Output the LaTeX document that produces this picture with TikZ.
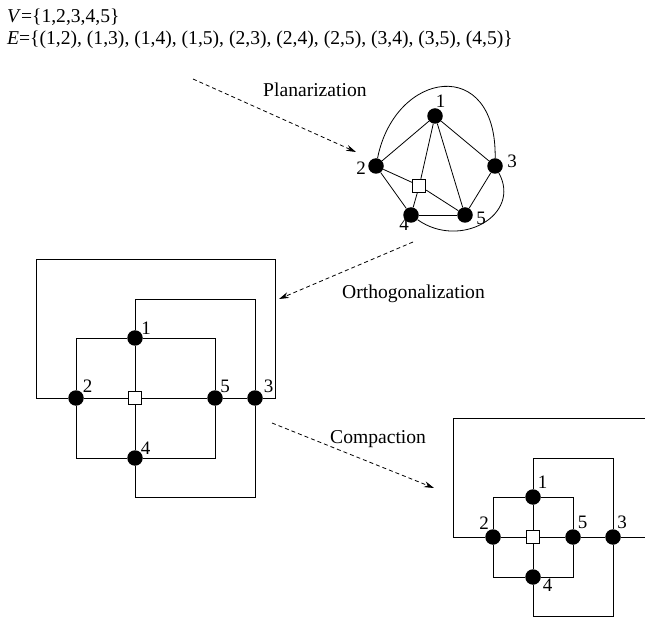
\documentclass[tikz,border=0pt]{standalone}
\usepackage{fontspec}
\setmainfont{Liberation Serif}
\usetikzlibrary{arrows.meta}
\tikzset{
  vertex/.style={circle, fill=black, minimum size=15.5pt, inner sep=0pt},
  dummy/.style={rectangle, draw=black, fill=white, line width=0.8pt, minimum size=13pt, inner sep=0pt},
  vlabel/.style={inner sep=0pt, font=\fontsize{19}{22}\selectfont},
  caption/.style={inner sep=0pt, anchor=base west, font=\fontsize{19.6}{22}\selectfont},
  edge/.style={line width=0.8pt},
  flow/.style={line width=0.8pt, dash pattern=on 4pt off 3pt, -{Stealth[length=10pt,width=6pt]}}
}
\begin{document}
\begin{tikzpicture}[x=1pt,y=-1pt]
\clip (0,0) rectangle (645,617);

% graph definition
\node[caption] (vset) at (7,23) {\textit{V}=\{1,2,3,4,5\}};
\node[caption] (eset) at (7,45) {\textit{E}=\{(1,2), (1,3), (1,4), (1,5), (2,3), (2,4), (2,5), (3,4), (3,5), (4,5)\}};

% step arrows and their names
\coordinate (pa) at (193,79);
\coordinate (pb) at (356,152);
\draw[flow] (pa) -- (pb);
\node[caption] (tplan) at (263,97) {Planarization};

\coordinate (oa1) at (413,242);
\coordinate (ob1) at (279,299);
\draw[flow] (oa1) -- (ob1);
\node[caption] (torth) at (342,299) {Orthogonalization};

\coordinate (ca) at (272,423);
\coordinate (cb) at (434,488);
\draw[flow] (ca) -- (cb);
\node[caption] (tcomp) at (330,443) {Compaction};

% ---------- planarized graph ----------
\node[vertex] (p1) at (435,116) {};
\node[vertex] (p2) at (376,166) {};
\node[vertex] (p3) at (495,166) {};
\node[vertex] (p4) at (411,215) {};
\node[vertex] (p5) at (465,215) {};
\node[dummy]  (pd) at (419.3,185.7) {};
\draw[edge] (p1) -- (p2);
\draw[edge] (p1) -- (p3);
\draw[edge] (p1) -- (pd);
\draw[edge] (p1) -- (p5);
\draw[edge] (p2) -- (pd);
\draw[edge] (p2) -- (p4);
\draw[edge] (pd) -- (p4);
\draw[edge] (pd) -- (p5);
\draw[edge] (p3) -- (p5);
\draw[edge] (p4) -- (p5);
\draw[edge] (p2) .. controls (395,70) and (497,55) .. (p3);
\draw[edge] (p3) .. controls (522,215) and (460,250) .. (p4);
\node[vlabel] (lp1) at (440.5,101) {1};
\node[vlabel] (lp2) at (361,168) {2};
\node[vlabel] (lp3) at (512,161) {3};
\node[vlabel] (lp4) at (404,224) {4};
\node[vlabel] (lp5) at (481,218) {5};

% ---------- orthogonal drawing ----------
\node[vertex] (o1) at (135,338) {};
\node[vertex] (o2) at (76,398) {};
\node[vertex] (o5) at (215,398) {};
\node[vertex] (o3) at (255,398) {};
\node[vertex] (o4) at (135,458) {};
\node[dummy]  (od) at (135,398) {};
\coordinate (oc1) at (36,259);
\coordinate (oc2) at (275,259);
\draw[edge] (o1) -| (o2);
\draw[edge] (o1) -| (o5);
\draw[edge] (o2) |- (o4);
\draw[edge] (o4) -| (o5);
\draw[edge] (o1) -- (od);
\draw[edge] (od) -- (o4);
\draw[edge] (o2) -- (od);
\draw[edge] (od) -- (o5);
\draw[edge] (o5) -- (o3);
\draw[edge] (o1) -- ++(0,-39) -| (o3);
\draw[edge] (o4) -- ++(0,39) -| (o3);
\draw[edge] (o2) -| (oc1) -- (oc2) |- (o3);
\node[vlabel] (lo1) at (146,328) {1};
\node[vlabel] (lo2) at (87.5,386) {2};
\node[vlabel] (lo5) at (225,386) {5};
\node[vlabel] (lo3) at (268.5,386) {3};
\node[vlabel] (lo4) at (145.5,448) {4};

% ---------- compacted drawing ----------
\node[vertex] (c1) at (533,497) {};
\node[vertex] (c2) at (493,537) {};
\node[vertex] (c5) at (573,537) {};
\node[vertex] (c3) at (613,537) {};
\node[vertex] (c4) at (533,577) {};
\node[dummy]  (cd) at (533,537) {};
\coordinate (cc1) at (453,418);
\coordinate (cc2) at (665,418);
\draw[edge] (c1) -| (c2);
\draw[edge] (c1) -| (c5);
\draw[edge] (c2) |- (c4);
\draw[edge] (c4) -| (c5);
\draw[edge] (c1) -- (cd);
\draw[edge] (cd) -- (c4);
\draw[edge] (c2) -- (cd);
\draw[edge] (cd) -- (c5);
\draw[edge] (c5) -- (c3);
\draw[edge] (c1) -- ++(0,-39) -| (c3);
\draw[edge] (c4) -- ++(0,39) -| (c3);
\draw[edge] (c2) -| (cc1) -- (cc2) |- (c3);
\node[vlabel] (lc1) at (542.5,482) {1};
\node[vlabel] (lc2) at (484,523.5) {2};
\node[vlabel] (lc5) at (582.5,522) {5};
\node[vlabel] (lc3) at (622,522) {3};
\node[vlabel] (lc4) at (547.5,585.5) {4};
\end{tikzpicture}
\end{document}
